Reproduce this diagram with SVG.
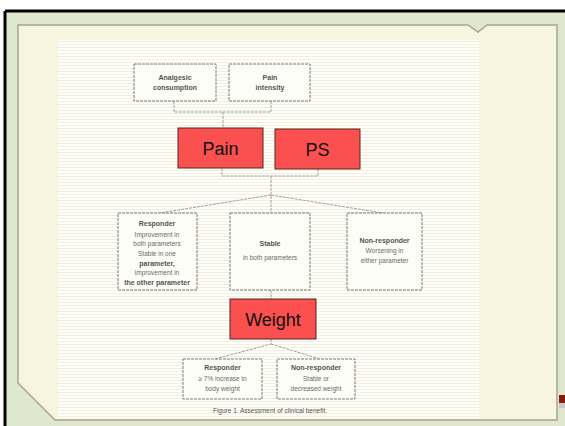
<svg xmlns="http://www.w3.org/2000/svg" width="565" height="426" viewBox="0 0 565 426">
<defs>
<pattern id="stripes" width="4" height="3" patternUnits="userSpaceOnUse">
<rect width="4" height="3" fill="#ffffff"/>
<rect y="2" width="4" height="1" fill="#f3f0d8"/>
</pattern>
<style>
.box{fill:#fdfdf8;stroke:#7a7a72;stroke-width:1;stroke-dasharray:3 1}
.red{fill:#fa5050;stroke:#5a2020;stroke-width:1}
.con{fill:none;stroke:#a0a098;stroke-width:1;stroke-dasharray:3 1}
.t{font-family:"Liberation Sans",Arial,sans-serif;font-size:6.5px;fill:#6a6a66;text-anchor:middle}
.tb{font-family:"Liberation Sans",Arial,sans-serif;font-size:7px;font-weight:bold;fill:#55554f;text-anchor:middle}
.big{font-family:"Liberation Sans",Arial,sans-serif;font-size:18px;fill:#111;text-anchor:middle}
</style>
</defs>
<rect width="565" height="426" fill="#ffffff"/>
<rect x="5" y="11" width="560" height="415" fill="#dfe8cc"/>
<path d="M5 11 H565 M5 11 V426" stroke="#000" stroke-width="3" fill="none"/>
<path d="M18 25 H468 L478 32 L487 25 H557 V420 H55 L18 383 Z" fill="#f7f5df" stroke="#aaa294" stroke-width="1.5"/>
<rect x="58" y="40" width="421" height="378" fill="url(#stripes)"/>
<g id="connectors">
<path class="con" d="M174 101 V112 H271 V101 M223 112 V128"/>
<path class="con" d="M222 168 V176 H318 V169 M271 176 V213"/>
<path class="con" d="M271 195 L160 213 M271 195 L383 213"/>
<path class="con" d="M271 290 V299"/>
<path class="con" d="M271 339 V344 L215 359 M271 344 L320 359"/>
</g>
<g id="analgesic"><rect class="box" x="134" y="64" width="82" height="37"/>
<text class="tb" x="175" y="80">Analgesic</text><text class="tb" x="175" y="90">consumption</text></g>
<g id="painint"><rect class="box" x="229" y="64" width="81" height="37"/>
<text class="tb" x="270" y="80">Pain</text><text class="tb" x="270" y="90">intensity</text></g>
<g id="pain"><rect class="red" x="178" y="128" width="85" height="40"/><text class="big" x="220.5" y="155">Pain</text></g>
<g id="ps"><rect class="red" x="275" y="129" width="85" height="40"/><text class="big" x="317.5" y="156">PS</text></g>
<g id="responder1"><rect class="box" x="118" y="213" width="79" height="77"/>
<text class="tb" x="157" y="226">Responder</text>
<text class="t" x="157" y="237">Improvement in</text>
<text class="t" x="157" y="246">both parameters</text>
<text class="t" x="157" y="256">Stable in one</text>
<text class="tb" x="157" y="266">parameter,</text>
<text class="t" x="157" y="275">improvement in</text>
<text class="tb" x="157" y="285">the other parameter</text></g>
<g id="stable"><rect class="box" x="230" y="213" width="80" height="77"/>
<text class="tb" x="270" y="246">Stable</text><text class="t" x="270" y="260">in both parameters</text></g>
<g id="nonresp1"><rect class="box" x="347" y="213" width="75" height="77"/>
<text class="tb" x="384.5" y="243">Non-responder</text><text class="t" x="384.5" y="253">Worsening in</text><text class="t" x="384.5" y="263">either parameter</text></g>
<g id="weight"><rect class="red" x="230" y="299" width="86" height="40"/><text class="big" x="273" y="326">Weight</text></g>
<g id="responder2"><rect class="box" x="183" y="359" width="79" height="40"/>
<text class="tb" x="222.5" y="370">Responder</text><text class="t" x="222.5" y="381">≥ 7% increase in</text><text class="t" x="222.5" y="391">body weight</text></g>
<g id="nonresp2"><rect class="box" x="277" y="359" width="78" height="40"/>
<text class="tb" x="316" y="370">Non-responder</text><text class="t" x="316" y="381">Stable or</text><text class="t" x="316" y="391">decreased weight</text></g>
<text class="t" x="270" y="413" style="font-size:6.5px;fill:#55554f">Figure 1. Assessment of clinical benefit.</text>
<rect x="559" y="395" width="6" height="8" fill="#8a1a0a"/>
<rect x="559" y="403" width="6" height="5" fill="#c8c8d0"/>
</svg>
